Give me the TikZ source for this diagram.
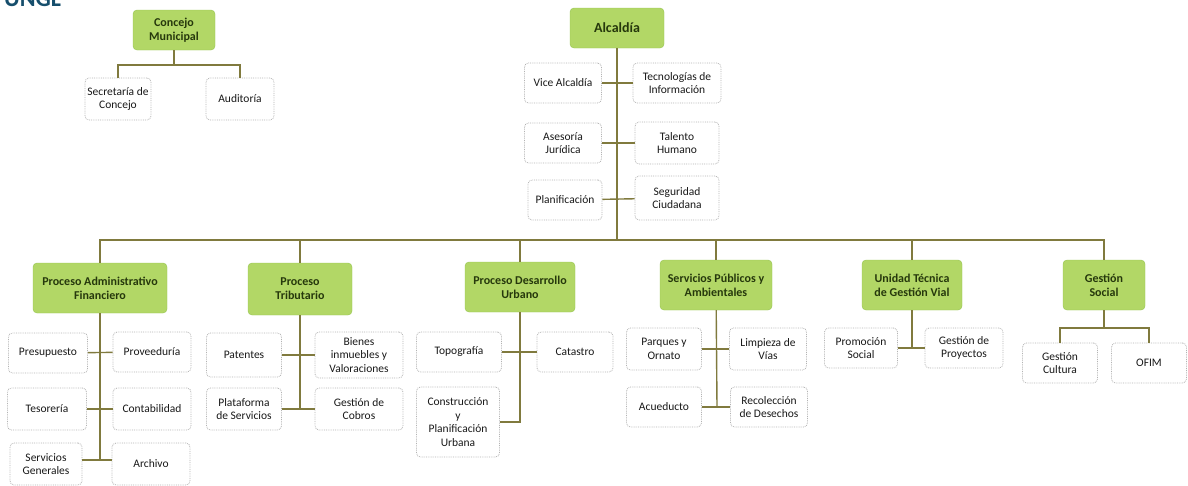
\documentclass[tikz,border=0pt]{standalone}
\usepackage{fontspec}
\setmainfont{Carlito}
\usepackage{tikz}

\definecolor{headgreen}{RGB}{178,215,102}
\definecolor{headedge}{RGB}{150,196,80}
\definecolor{headtext}{RGB}{38,56,12}
\definecolor{linkolive}{RGB}{128,122,62}
\definecolor{logoblue}{RGB}{22,78,108}

\newcommand{\hdfont}{\fontsize{12}{14}\selectfont\bfseries}
\newcommand{\unfont}{\fontsize{11.5}{13.5}\selectfont}

\tikzset{
  head/.style={fill=headgreen, draw=headedge, rounded corners=4pt, align=center,
    font=\hdfont, text=headtext, inner sep=2pt},
  unit/.style={fill=white, draw=gray!60, line width=0.8pt, densely dotted, rounded corners=4pt,
    align=center, font=\unfont, text=black!90, inner sep=2pt},
  wh/.style 2 args={minimum width=#1, minimum height=#2},
  link/.style={draw=linkolive, line width=1.4pt, solid}
}

\begin{document}
\begin{tikzpicture}[x=1pt,y=-1pt]
   \useasboundingbox (0,0) rectangle (1188,485);

   \node[font=\fontsize{24}{24}\selectfont\bfseries, text=logoblue, anchor=base west, inner sep=0] (logo) at (4,6) {UNGL};

   % concejo
   \node[head, wh={82}{40}] (cm) at (174,30) {Concejo\\Municipal};
   \node[unit, wh={66}{42}] (sec) at (118,99) {Secretaría de\\Concejo};
   \node[unit, wh={68}{42}] (aud) at (240,99) {Auditoría};
   \coordinate (cmj) at (174,65);

   \draw [link] (cm) -- (cmj);
   \draw [link] (sec.north) |- (cmj) -| (aud.north);

   % alcaldia
   \node[head, wh={94}{40}, font=\fontsize{14}{16}\selectfont\bfseries] (alc) at (617,28) {Alcaldía};
   \node[unit, wh={77}{40}] (va) at (563,83) {Vice Alcaldía};
   \node[unit, wh={88}{40}] (ti) at (677,83) {Tecnologías de\\Información};
   \node[unit, wh={77}{40}] (aj) at (563,143) {Asesoría\\Jurídica};
   \node[unit, wh={84}{42}] (th) at (677,143) {Talento\\Humano};
   \node[unit, wh={74}{40}] (pl) at (565,200) {Planificación};
   \node[unit, wh={84}{44}] (sc) at (677,198) {Seguridad\\Ciudadana};
   \coordinate (bus) at (617,240);

   \draw [link] (alc) -- (bus);
   \draw [link] (va) -- (ti);
   \draw [link] (aj) -- (th);
   \draw [link] (pl) -- (sc);

   % procesos
   \node[head, wh={134}{50}] (paf) at (100,288) {Proceso Administrativo\\Financiero};
   \node[head, wh={104}{52}] (pt) at (300,289) {Proceso\\Tributario};
   \node[head, wh={110}{50}] (pdu) at (520,287) {Proceso Desarrollo\\Urbano};
   \node[head, wh={112}{50}] (psp) at (716,285) {Servicios Públicos y\\Ambientales};
   \node[head, wh={100}{50}] (utv) at (912,285) {Unidad Técnica\\de Gestión Vial};
   \node[head, wh={82}{50}] (gs) at (1104,285) {Gestión\\Social};

   \draw [link] (paf.north) |- (bus) -| (gs.north);
   \draw [link] (pt.north) -- (pt.north |- bus);
   \draw [link] (pdu.north) -- (pdu.north |- bus);
   \draw [link] (psp.north) -- (psp.north |- bus);
   \draw [link] (utv.north) -- (utv.north |- bus);

   % administrativo financiero
   \node[unit, wh={79}{40}] (pre) at (48,353) {Presupuesto};
   \node[unit, wh={78}{40}] (pro) at (152,352) {Proveeduría};
   \node[unit, wh={79}{42}] (tes) at (47,409) {Tesorería};
   \node[unit, wh={78}{42}] (con) at (152,409) {Contabilidad};
   \node[unit, wh={72}{42}] (sg) at (46,464) {Servicios\\Generales};
   \node[unit, wh={78}{42}] (arc) at (151,464) {Archivo};
   \coordinate (pafe) at (100,460);

   \draw [link] (paf) -- (pafe);
   \draw [link] (pre) -- (pro);
   \draw [link] (tes) -- (con);
   \draw [link] (sg.east |- pafe) -- (arc.west |- pafe);

   % tributario
   \node[unit, wh={75}{44}] (pat) at (244,355) {Patentes};
   \node[unit, wh={88}{46}] (bie) at (359,355) {Bienes\\inmuebles y\\Valoraciones};
   \node[unit, wh={75}{42}] (pla) at (244,409) {Plataforma\\de Servicios};
   \node[unit, wh={88}{42}] (cob) at (359,409) {Gestión de\\Cobros};
   \coordinate (pte) at (300,410);

   \draw [link] (pt) -- (pte);
   \draw [link] (pat) -- (bie);
   \draw [link] (pla) -- (cob);

   % desarrollo urbano
   \node[unit, wh={85}{40}] (top) at (459,352) {Topografía};
   \node[unit, wh={76}{40}] (cat) at (575,352) {Catastro};
   \node[unit, wh={83}{70}] (cpu) at (458,422) {Construcción\\y\\Planificación\\Urbana};

   \draw [link] (pdu.south) |- (cpu.east);
   \draw [link] (top) -- (cat);

   % servicios publicos
   \node[unit, wh={75}{42}] (par) at (664,349) {Parques y\\Ornato};
   \node[unit, wh={77}{42}] (lim) at (768,349) {Limpieza de\\Vías};
   \node[unit, wh={75}{40}] (acu) at (664,407) {Acueducto};
   \node[unit, wh={77}{40}] (rec) at (769,407) {Recolección\\de Desechos};
   \coordinate (pspe) at (717,407);

   \draw [link] (psp) -- (pspe);
   \draw [link] (par) -- (lim);
   \draw [link] (acu) -- (rec);

   % gestion vial
   \node[unit, wh={73}{40}] (prm) at (861,348) {Promoción\\Social};
   \node[unit, wh={78}{40}] (gpy) at (964,348) {Gestión de\\Proyectos};
   \coordinate (utve) at (912,348);

   \draw [link] (utv) -- (utve);
   \draw [link] (prm) -- (gpy);

   % gestion social
   \node[unit, wh={75}{40}] (gcu) at (1060,363) {Gestión\\Cultura};
   \node[unit, wh={75}{40}] (ofm) at (1149,363) {OFIM};
   \coordinate (gsj) at (1104,328);

   \draw [link] (gs) -- (gsj);
   \draw [link] (gcu.north) |- (gsj) -| (ofm.north);
\end{tikzpicture}
\end{document}
